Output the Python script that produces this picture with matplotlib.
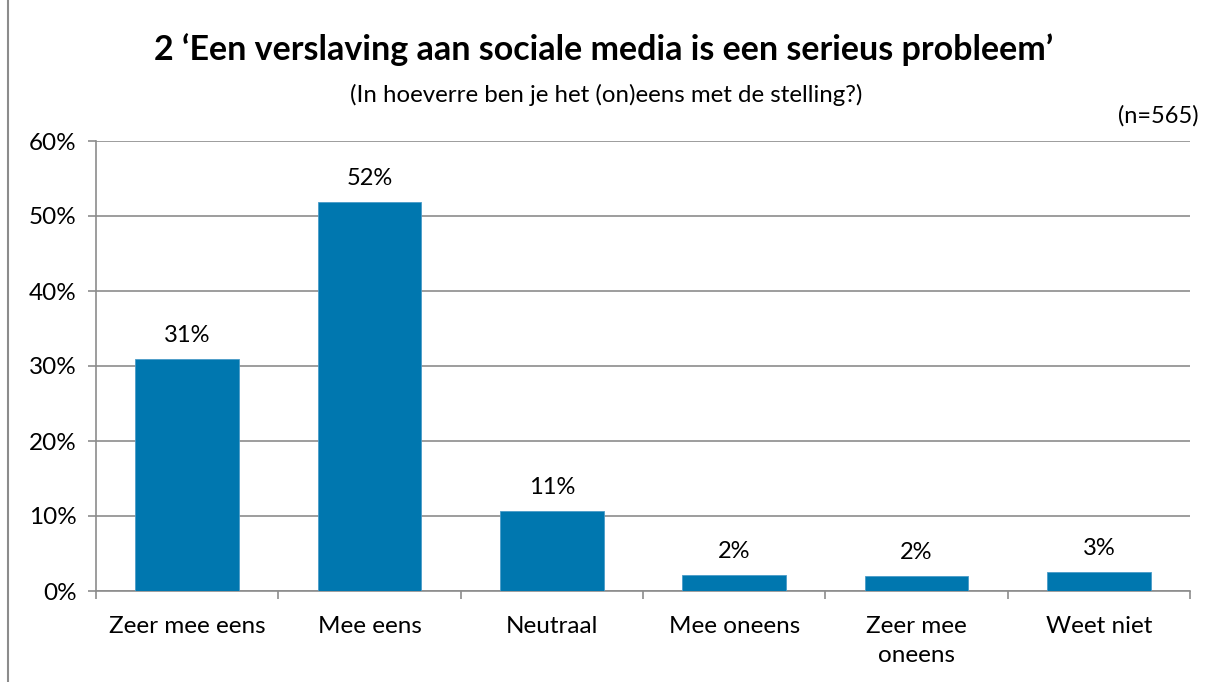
import matplotlib.pyplot as plt
from matplotlib.patches import Rectangle
from matplotlib.ticker import FixedLocator, PercentFormatter

plt.rcParams['font.family'] = ['Lato', 'DejaVu Sans']

# antwoordcategorieen en percentages
categories = ['Zeer mee eens', 'Mee eens', 'Neutraal', 'Mee oneens', 'Zeer mee\noneens', 'Weet niet']
values = [31.0, 51.9, 10.7, 2.2, 2.0, 2.6]
labels = ['31%', '52%', '11%', '2%', '2%', '3%']

blue = '#0077AF'
grey = '#8C8C8C'

fig = plt.figure(figsize=(12.14, 6.82), dpi=100)
ax = fig.add_axes([96 / 1214, 1 - 591 / 682, 1094 / 1214, 450 / 682])

x = list(range(len(categories)))
ax.bar(x, values, width=0.57, color=blue, edgecolor='#4A9BC8', linewidth=0.6, zorder=3)

# waarden boven de staven
for i in x:
    ax.text(i, values[i] + 1.7, labels[i], ha='center', va='bottom', fontsize=17)

ax.set_xlim(-0.5, len(categories) - 0.5)
ax.set_ylim(0, 60)
ax.set_yticks(range(0, 61, 10))
ax.yaxis.set_major_formatter(PercentFormatter(decimals=0))
ax.set_xticks(x)
ax.set_xticklabels(categories, fontsize=17.5, linespacing=1.5)
ax.xaxis.set_minor_locator(FixedLocator([i - 0.5 for i in range(len(categories) + 1)]))
ax.tick_params(axis='x', which='major', length=0, pad=18)
ax.tick_params(axis='x', which='minor', length=6, color=grey, width=1.2)
ax.tick_params(axis='y', length=6, color=grey, width=1.2, labelsize=17.5, pad=8)

ax.grid(axis='y', color=grey, linewidth=1.2, zorder=0)
for s in ['top', 'right']:
    ax.spines[s].set_visible(False)
for s in ['left', 'bottom']:
    ax.spines[s].set_color(grey)
    ax.spines[s].set_linewidth(1.2)

fig.text(604 / 1214, 1 - 50 / 682, '2 \u2018Een verslaving aan sociale media is een serieus probleem\u2019',
         ha='center', va='center', fontsize=24.5, fontweight='bold')
fig.text(606 / 1214, 1 - 95 / 682, '(In hoeverre ben je het (on)eens met de stelling?)',
         ha='center', va='center', fontsize=17.3)
fig.text(1199 / 1214, 1 - 116 / 682, '(n=565)', ha='right', va='center', fontsize=17)

# kader rond de grafiek
fig.patches.append(Rectangle((8 / 1214, -0.01), 1.1, 1.1, transform=fig.transFigure,
                             fill=False, edgecolor=grey, linewidth=1.5))

fig.savefig('out.png', dpi=100)
